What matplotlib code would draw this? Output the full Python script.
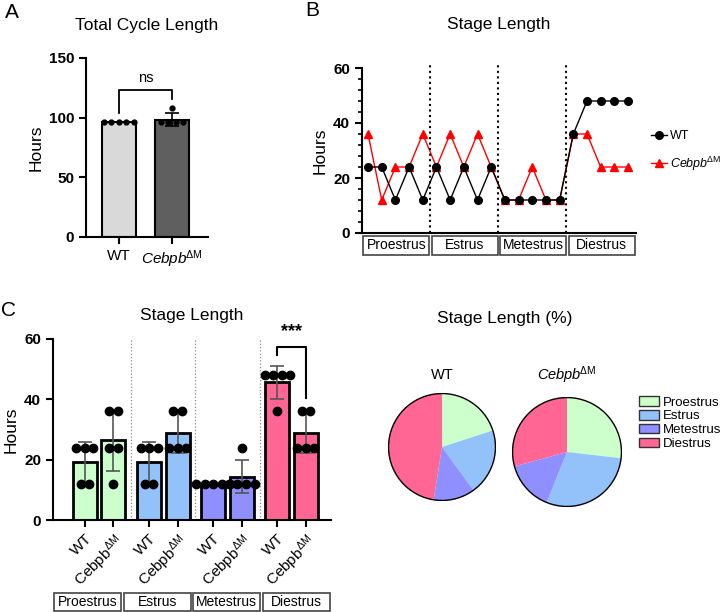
import numpy as np
import matplotlib
matplotlib.use("Agg")
import matplotlib.pyplot as plt
from matplotlib.patches import Rectangle, Patch, Circle

plt.rcParams['font.family'] = ['Liberation Sans', 'DejaVu Sans']
plt.rcParams['mathtext.fontset'] = 'custom'
plt.rcParams['mathtext.rm'] = 'Liberation Sans'
plt.rcParams['mathtext.it'] = 'Liberation Sans:italic'

# ---- data (hours per stage, one value per mouse) ----
stages = ['Proestrus', 'Estrus', 'Metestrus', 'Diestrus']
wt_stage = [[24, 24, 12, 24, 12],
            [24, 12, 24, 12, 24],
            [12, 12, 12, 12, 12],
            [36, 48, 48, 48, 48]]
ko_stage = [[36, 12, 24, 24, 36],
            [24, 36, 24, 36, 24],
            [12, 12, 24, 12, 12],
            [36, 36, 24, 24, 24]]
stage_colors = ['#ccffcc', '#93c1f9', '#8f8fff', '#ff6694']
ko_label_it = r'$\mathit{Cebpb}^{\!\mathrm{\Delta M}}$'
ko_label_rm = r'$\mathrm{Cebpb}^{\mathrm{\Delta M}}$'

wt = np.array(wt_stage, dtype=float)
ko = np.array(ko_stage, dtype=float)
wt_total = wt.sum(axis=0)
ko_total = ko.sum(axis=0)


def swarm(vals, spacing):
    vals = np.asarray(vals)
    off = np.zeros(len(vals))
    for v in np.unique(vals):
        idx = np.where(vals == v)[0]
        off[idx] = (np.arange(len(idx)) - (len(idx) - 1) / 2) * spacing
    return off


def style(ax):
    for s in ['top', 'right']:
        ax.spines[s].set_visible(False)
    for s in ['left', 'bottom']:
        ax.spines[s].set_linewidth(1.5)
    ax.tick_params(width=1.5, length=5)
    for lab in ax.get_yticklabels():
        lab.set_fontweight('bold')
        lab.set_fontsize(11)


def stage_boxes(ax, y0, y1, fs=10):
    for i, st in enumerate(stages):
        ax.add_patch(Rectangle((i / 4 + 0.004, y1), 0.25 - 0.008, y0 - y1,
                               transform=ax.transAxes, fill=False,
                               edgecolor='#444444', lw=1.2, clip_on=False))
        ax.text(i / 4 + 0.125, (y0 + y1) / 2, st, transform=ax.transAxes,
                ha='center', va='center', fontsize=fs)


W, H = 722, 612
fig = plt.figure(figsize=(W / 100, H / 100), dpi=100)


def rect(l, r, t, b):
    return [l / W, 1 - b / H, (r - l) / W, (b - t) / H]


# ---- Panel A ----
axA = fig.add_axes(rect(86, 208, 58, 237))
means = [wt_total.mean(), ko_total.mean()]
sds = [wt_total.std(ddof=1), ko_total.std(ddof=1)]
axA.bar([0, 1], means, width=0.64, color=['#d9d9d9', '#5f5f5f'],
        edgecolor='black', lw=1.5, zorder=2)
axA.errorbar([0, 1], means, yerr=sds, fmt='none', ecolor='black',
             elinewidth=1.2, capsize=5, capthick=1.2, zorder=3)
for i, vals in enumerate([wt_total, ko_total]):
    axA.plot(i + swarm(vals, 0.14), vals, 'o', color='black', ms=3.5, zorder=4)
axA.plot([0, 0, 1, 1], [104, 123, 123, 116], color='black', lw=1.3)
axA.text(0.5, 127, 'ns', ha='center', va='bottom', fontsize=10.5)
axA.set_xlim(-0.62, 1.68)
axA.set_ylim(0, 150)
axA.set_yticks([0, 50, 100, 150])
axA.set_xticks([0, 1])
axA.set_xticklabels(['WT', ko_label_it], fontsize=11)
axA.set_ylabel('Hours', fontsize=12.5)
axA.set_title('Total Cycle Length', fontsize=12.5, pad=20)
style(axA)

# ---- Panel B ----
axB = fig.add_axes(rect(362, 636, 68, 233))
x = np.arange(wt.size)
axB.plot(x, wt.ravel(), '-o', color='black', lw=1, ms=5.5, label='WT', zorder=3)
axB.plot(x, ko.ravel(), '-^', color='red', lw=1, ms=5.5, label=ko_label_it, zorder=2)
for b in [4.5, 9.5, 14.5]:
    axB.axvline(b, ymin=0, ymax=1.02, color='black', ls=':', lw=1.5, clip_on=False)
axB.set_xlim(-0.44, 19.58)
axB.set_ylim(0, 60)
axB.set_yticks([0, 20, 40, 60])
axB.set_yticks(np.arange(0, 61, 4), minor=True)
axB.tick_params(axis='y', which='minor', length=3, width=1.2)
axB.set_xticks([])
axB.set_ylabel('Hours', fontsize=12.5)
axB.set_title('Stage Length', fontsize=12.5, pad=28)
style(axB)
stage_boxes(axB, -0.018, -0.133)
axB.legend(loc='upper left', bbox_to_anchor=(646 / W, 1 - 125 / H),
           bbox_transform=fig.transFigure, frameon=False, fontsize=9,
           handlelength=1.3, labelspacing=1.0, handletextpad=0.2,
           borderaxespad=0)

# ---- Panel C ----
axC = fig.add_axes(rect(53, 331, 339, 520))
gap = 2.25
for g in range(4):
    for j, data in enumerate([wt[g], ko[g]]):
        xc = g * gap + j
        axC.bar(xc, data.mean(), width=0.84, color=stage_colors[g],
                edgecolor='black', lw=2, zorder=2)
        axC.errorbar(xc, data.mean(), yerr=data.std(ddof=1), fmt='none',
                     ecolor='#555555', elinewidth=1.2, capsize=5,
                     capthick=1.2, zorder=3)
        axC.plot(xc + swarm(data, 0.3), data, 'o', color='black', ms=6,
                 zorder=4)
for g in range(3):
    axC.axvline(g * gap + 1 + (gap - 1) / 2, color='#888888', ls=':', lw=0.9,
                zorder=1)
xd = 3 * gap
axC.plot([xd, xd, xd + 1, xd + 1], [54.6, 57.3, 57.3, 40.4], color='black', lw=1.5)
axC.text(xd + 0.5, 59.5, '***', ha='center', va='bottom', fontsize=13,
         fontweight='bold')
axC.set_xlim(-1.12, 8.63)
axC.set_ylim(0, 60)
axC.set_yticks([0, 20, 40, 60])
xt = [g * gap + j for g in range(4) for j in range(2)]
axC.set_xticks(xt)
axC.set_xticklabels(['WT', ko_label_rm] * 4, rotation=45, ha='right',
                    rotation_mode='anchor', fontsize=11)
axC.set_ylabel('Hours', fontsize=12.5)
axC.set_title('Stage Length', fontsize=12.5, pad=14)
style(axC)
stage_boxes(axC, -0.403, -0.503)

# ---- Pies ----
fig.text(505 / W, 1 - 318 / H, 'Stage Length (%)', ha='center', va='center',
         fontsize=12.5)
for (cx, cy, r, data, lab) in [(442, 447, 54, wt, 'WT'),
                               (567, 452, 55, ko, ko_label_it)]:
    axp = fig.add_axes(rect(cx - r, cx + r, cy - r, cy + r))
    shares = data.mean(axis=1)
    axp.pie(shares, colors=stage_colors, startangle=90, counterclock=False,
            radius=1, wedgeprops=dict(linewidth=0))
    axp.add_patch(Circle((0, 0), 1, fill=False, edgecolor='black', lw=1))
    axp.set_xlim(-1.01, 1.01)
    axp.set_ylim(-1.01, 1.01)
    axp.set_aspect('auto')
    axp.axis('off')
    fig.text(cx / W, 1 - 375 / H, lab, ha='center', va='center', fontsize=10.5)

handles = [Patch(facecolor=c, edgecolor='#333333', lw=1) for c in stage_colors]
fig.legend(handles, stages, loc='upper left',
           bbox_to_anchor=(634 / W, 1 - 391 / H), frameon=False, fontsize=9.5,
           handlelength=1.5, handleheight=0.75, labelspacing=0.1,
           handletextpad=0.3, borderaxespad=0)

# panel letters
for (px, py, letter) in [(12, 12, 'A'), (312, 10, 'B'), (8, 311, 'C')]:
    fig.text(px / W, 1 - py / H, letter, ha='center', va='center', fontsize=15)

fig.savefig('out.png', dpi=100)
